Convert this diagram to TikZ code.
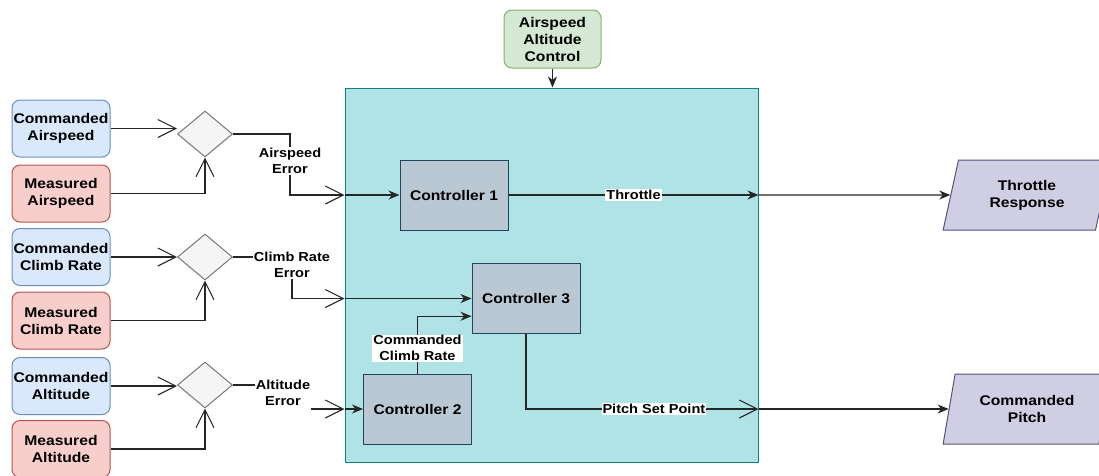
\documentclass[tikz,border=0pt]{standalone}
\usepackage{fontspec}
\setmainfont{Liberation Sans}[FakeStretch=1.12]
\usetikzlibrary{shapes.geometric,arrows.meta,calc}

\definecolor{cmdfill}{HTML}{DAE8FC}
\definecolor{cmdline}{HTML}{6C8EBF}
\definecolor{meafill}{HTML}{F8CECC}
\definecolor{mealine}{HTML}{B85450}
\definecolor{sumfill}{HTML}{F5F5F5}
\definecolor{sumline}{HTML}{777777}
\definecolor{ctrlfill}{HTML}{BAC8D3}
\definecolor{ctrlline}{HTML}{23445D}
\definecolor{blockfill}{HTML}{B0E3E6}
\definecolor{blockline}{HTML}{0E8088}
\definecolor{modefill}{HTML}{D5E8D4}
\definecolor{modeline}{HTML}{82B366}
\definecolor{outfill}{HTML}{D0CEE2}
\definecolor{outline}{HTML}{56517E}

\begin{document}
\begin{tikzpicture}[x=1pt, y=-1pt,
		every node/.style={font=\fontsize{14}{17}\selectfont\bfseries, align=center},
		cmdbox/.style={rectangle, rounded corners=8pt, draw=cmdline, fill=cmdfill, line width=1pt, minimum width=98pt, minimum height=57pt, inner sep=1pt},
		meabox/.style={rectangle, rounded corners=8pt, draw=mealine, fill=meafill, line width=1pt, minimum width=98pt, minimum height=57pt, inner sep=1pt},
		sumnode/.style={diamond, draw=sumline, fill=sumfill, line width=1pt, minimum width=55pt, minimum height=46pt, inner sep=0pt},
		ctrlbox/.style={rectangle, draw=ctrlline, fill=ctrlfill, line width=1pt, minimum width=108pt, minimum height=70pt},
		outnode/.style={trapezium, trapezium left angle=76, trapezium right angle=104, trapezium stretches=true, draw=outline, fill=outfill, line width=1pt, minimum width=168pt, minimum height=70pt},
		lbl/.style={fill=white, inner sep=1pt, font=\fontsize{13}{16}\selectfont\bfseries},
		wire/.style={line width=1.1pt, draw=black!85},
		openarr/.style={wire, -{Straight Barb[length=18pt, width=18pt]}},
		fillarr/.style={wire, -{Stealth[length=11pt, width=9pt, inset=3.5pt]}}
	]
		\useasboundingbox (0,0) rectangle (1099,475);
		
		% Airspeed / altitude hold block
		\node[rectangle, draw=blockline, fill=blockfill, line width=1pt, minimum width=413pt, minimum height=374pt] (block) at (551.5,275) {};
		\node[rectangle, rounded corners=8pt, draw=modeline, fill=modefill, line width=1pt, minimum width=97pt, minimum height=58pt] (mode) at (552.5,39) {Airspeed\\Altitude\\Control};
		\draw[fillarr] (mode.south) -- (mode.south |- block.north);
		
		% Inputs
		\node[cmdbox] (cas) at (61,128.5) {Commanded\\Airspeed};
		\node[meabox] (mas) at (61,193.5) {Measured\\Airspeed};
		\node[cmdbox] (ccr) at (61,257) {Commanded\\Climb Rate};
		\node[meabox] (mcr) at (61,320.5) {Measured\\Climb Rate};
		\node[cmdbox] (calt) at (61,386) {Commanded\\Altitude};
		\node[meabox] (malt) at (61,449) {Measured\\Altitude};
		
		% Error junctions
		\node[sumnode] (sum1) at (205,134) {};
		\node[sumnode] (sum2) at (205,257) {};
		\node[sumnode] (sum3) at (205,385) {};
		
		\draw[openarr] (cas.east) -- (cas.east -| sum1.west);
		\draw[openarr] (mas.east) -| (sum1.south);
		\draw[openarr] (ccr.east) -- (ccr.east -| sum2.west);
		\draw[openarr] (mcr.east) -| (sum2.south);
		\draw[openarr] (calt.east) -- (calt.east -| sum3.west);
		\draw[openarr] (malt.east) -| (sum3.south);
		
		% Controllers
		\node[ctrlbox] (c1) at (454,195) {Controller 1};
		\node[ctrlbox] (c3) at (526,298.5) {Controller 3};
		\node[ctrlbox] (c2) at (417.5,409) {Controller 2};
		
		% Outputs
		\node[outnode] (tr) at (1027,195) {Throttle\\Response};
		\node[outnode] (cp) at (1027,409) {Commanded\\Pitch};
		
		% Error signals
		\node[lbl] (aerr) at (290,161) {Airspeed\\Error};
		\node[lbl] (cerr) at (292,265) {Climb Rate\\Error};
		\node[lbl] (herr) at (283,393) {Altitude\\Error};
		
		\draw[wire] (sum1.east) -| (aerr.north);
		\draw[openarr] (aerr.south) |- (c1.west -| block.west);
		\draw[fillarr] (c1.west -| block.west) -- (c1.west);
		
		\draw[wire] (sum2.east) -- (sum2.east -| cerr.west);
		\draw[openarr] (cerr.south) |- (c3.west -| block.west);
		\draw[fillarr] (c3.west -| block.west) -- (c3.west);
		
		\draw[wire] (sum3.east) -- (sum3.east -| herr.west);
		\draw[openarr] (herr.east |- c2.west) -- (c2.west -| block.west);
		\draw[fillarr] (c2.west -| block.west) -- (c2.west);
		
		% Controller links
		\draw[fillarr] (c2.north) |- node[lbl, pos=0.22] {Commanded\\Climb Rate} ($(c3.west)!0.5!(c3.south west)$);
		\draw[fillarr] (c1.east) -- node[lbl] {Throttle} (c1.east -| block.east);
		\draw[fillarr] (c1.east -| block.east) -- (tr.west);
		\draw[openarr] (c3.south) |- node[lbl, pos=0.775] {Pitch Set Point} (cp.west -| block.east);
		\draw[fillarr] (cp.west -| block.east) -- (cp.west);
	\end{tikzpicture}
\end{document}
